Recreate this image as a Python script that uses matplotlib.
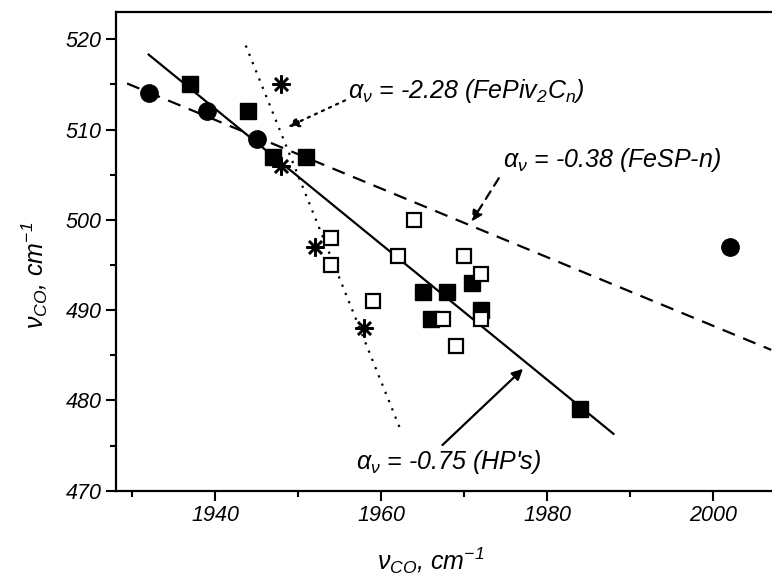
import matplotlib
matplotlib.use("Agg")
import matplotlib.pyplot as plt

plt.rcParams['font.family'] = ['Liberation Sans', 'DejaVu Sans']
plt.rcParams['font.style'] = 'italic'
plt.rcParams['mathtext.fontset'] = 'custom'
plt.rcParams['mathtext.rm'] = 'Liberation Sans:italic'
plt.rcParams['mathtext.it'] = 'Liberation Sans:italic'

# donnees
fesp_x = [1932, 1939, 1945, 2002]          # cercles pleins
fesp_y = [514, 512, 509, 497]
hp_x = [1937, 1944, 1947, 1951, 1965, 1968, 1971, 1972, 1966, 1984]   # carres pleins
hp_y = [515, 512, 507, 507, 492, 492, 493, 490, 489, 479]
open_x = [1964, 1954, 1954, 1962, 1970, 1972, 1959, 1967.5, 1972, 1969]  # carres vides
open_y = [500, 498, 495, 496, 496, 494, 491, 489, 489, 486]
piv_x = [1948, 1948, 1952, 1958]            # asterisques
piv_y = [515, 506, 497, 488]

# droites de regression (extremites)
hp_fit_x, hp_fit_y = [1932, 1988], [518.3, 476.3]
fesp_fit_x, fesp_fit_y = [1929.4, 2007], [515.1, 485.6]
piv_fit_x, piv_fit_y = [1943.7, 1962.5], [519.3, 476.4]

fig = plt.figure(figsize=(7.72, 5.78), dpi=100)
ax = fig.add_axes([0.1503, 0.151, 0.8497, 0.828])

ax.plot(hp_fit_x, hp_fit_y, '-', color='k', lw=1.6, zorder=2)
ax.plot(fesp_fit_x, fesp_fit_y, color='k', lw=1.6, dashes=(6, 4), zorder=2)
ax.plot(piv_fit_x, piv_fit_y, color='k', lw=1.6, dashes=(1, 3), zorder=2)

ax.plot(fesp_x, fesp_y, 'o', color='k', ms=12.5, zorder=3)
ax.plot(hp_x, hp_y, 's', color='k', ms=11, zorder=3)
ax.plot(open_x, open_y, 's', mfc='white', mec='k', mew=1.6, ms=10.5, zorder=4)
ax.plot(piv_x, piv_y, ls='none', marker=(8, 2, 0), color='k', mew=1.8, ms=13, zorder=4)

# annotations
ax.annotate(r'$\alpha_\nu$ = -2.28 (FePiv$_2$C$_n$)', xy=(1948.8, 510.3), xytext=(1956.0, 514.3),
            fontsize=18, va='center', ha='left',
            arrowprops=dict(arrowstyle='-|>', ls=(0, (1, 2.5)), lw=1.6, color='k',
                            mutation_scale=16, shrinkA=0, shrinkB=0,
                            relpos=(0, 0.2)))
ax.annotate(r'$\alpha_\nu$ = -0.38 (FeSP-n)', xy=(1970.9, 499.8), xytext=(1974.7, 506.6),
            fontsize=18, va='center', ha='left',
            arrowprops=dict(arrowstyle='-|>', ls=(0, (4, 3)), lw=1.6, color='k',
                            mutation_scale=16, shrinkA=2, shrinkB=0,
                            relpos=(0, 0.1)))
ax.annotate(r"$\alpha_\nu$ = -0.75 (HP's)", xy=(1977.1, 483.5), xytext=(1957.0, 473.2),
            fontsize=18, va='center', ha='left',
            arrowprops=dict(arrowstyle='-|>', lw=1.6, color='k',
                            mutation_scale=16, shrinkA=0, shrinkB=0,
                            relpos=(0.45, 1.0)))

ax.set_xlim(1928.07, 2007.1)
ax.set_ylim(470, 523.0)
ax.set_xticks([1940, 1960, 1980, 2000])
ax.set_xticks([1930, 1950, 1970, 1990], minor=True)
ax.set_yticks([470, 480, 490, 500, 510, 520])
ax.set_yticks([475, 485, 495, 505, 515], minor=True)
ax.tick_params(which='major', direction='out', length=7, width=1.5, labelsize=15.5)
ax.tick_params(which='minor', direction='out', length=4, width=1.5)
for s in ['left', 'bottom', 'top']:
    ax.spines[s].set_linewidth(1.6)
ax.spines['right'].set_visible(False)

ax.set_xlabel(r'$\nu_{CO}$, cm$^{-1}$', fontsize=18)
ax.set_ylabel(r'$\nu_{CO}$, cm$^{-1}$', fontsize=18)
ax.xaxis.set_label_coords(0.48, -0.115)
ax.yaxis.set_label_coords(-0.1, 0.45)

fig.savefig('out.png', dpi=100)
